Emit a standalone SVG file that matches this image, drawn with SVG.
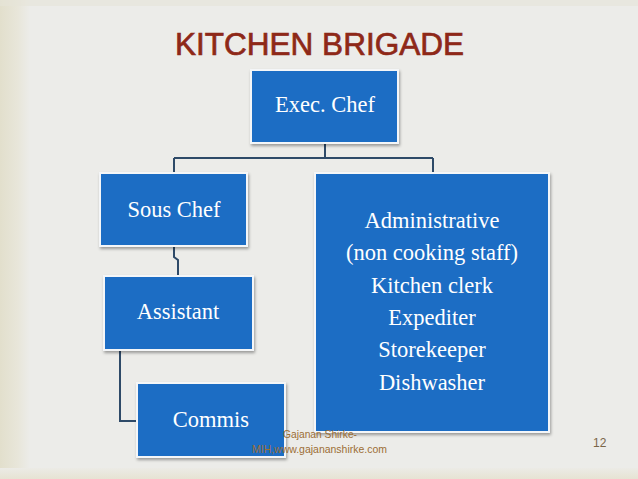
<svg xmlns="http://www.w3.org/2000/svg" width="638" height="479" viewBox="0 0 638 479">
<defs>
<linearGradient id="bgL" x1="0" y1="0" x2="1" y2="0">
<stop offset="0" stop-color="#e2dfcc"/>
<stop offset="0.6" stop-color="#e8e6da"/>
<stop offset="1" stop-color="#ecece9"/>
</linearGradient>
<linearGradient id="bgB" x1="0" y1="0" x2="0" y2="1">
<stop offset="0" stop-color="#ecebe6"/>
<stop offset="1" stop-color="#e6e3d3"/>
</linearGradient>
<filter id="sh" x="-10%" y="-10%" width="120%" height="125%">
<feDropShadow dx="1" dy="2" stdDeviation="1.5" flood-color="#000" flood-opacity="0.35"/>
</filter>
<style>
.box{fill:#1a6dc4;stroke:#f4f6f8;stroke-width:2;filter:url(#sh)}
.lbl{font-family:"Liberation Serif","Times New Roman",serif;font-size:22.5px;fill:#ffffff;text-anchor:middle}
.con{fill:none;stroke:#2e4a68;stroke-width:2}
.foot{font-family:"Liberation Sans",Arial,sans-serif;font-size:11px;fill:#9c6e35}
</style>
</defs>
<rect x="0" y="0" width="638" height="479" fill="#ecece9"/>
<rect x="0" y="0" width="30" height="479" fill="url(#bgL)"/>
<rect x="0" y="468" width="638" height="11" fill="url(#bgB)"/>
<rect x="0" y="0" width="638" height="6" fill="#e6e4d8" opacity="0.6"/>
<text x="175" y="55" font-family="'Liberation Sans',Arial,sans-serif" font-size="32" fill="#8e2818" stroke="#8e2818" stroke-width="0.7" textLength="289" lengthAdjust="spacingAndGlyphs">KITCHEN BRIGADE</text>
<g id="connectors">
<path class="con" d="M325 143 V158 M174 158 H433 M174 158 V173 M433 158 V173"/>
<path class="con" d="M174 246 V257 L178 260 V276"/>
<path class="con" d="M120 350 V421 H137"/>
</g>
<g id="exec">
<rect class="box" x="251" y="70" width="147" height="73"/>
<text class="lbl" x="325" y="112">Exec. Chef</text>
</g>
<g id="sous">
<rect class="box" x="100" y="173" width="147" height="73"/>
<text class="lbl" x="174" y="217">Sous Chef</text>
</g>
<g id="admin">
<rect class="box" x="315" y="173" width="234" height="259"/>
<text class="lbl" x="432" y="228">Administrative</text>
<text class="lbl" x="432" y="260">(non cooking staff)</text>
<text class="lbl" x="432" y="293">Kitchen clerk</text>
<text class="lbl" x="432" y="325">Expediter</text>
<text class="lbl" x="432" y="357">Storekeeper</text>
<text class="lbl" x="432" y="390">Dishwasher</text>
</g>
<g id="assistant">
<rect class="box" x="104" y="276" width="149" height="74"/>
<text class="lbl" x="178" y="319">Assistant</text>
</g>
<g id="commis">
<rect class="box" x="137" y="383" width="148" height="74"/>
<text class="lbl" x="211" y="427">Commis</text>
</g>
<text class="foot" x="283" y="438" textLength="74" lengthAdjust="spacingAndGlyphs">Gajanan Shirke-</text>
<text class="foot" x="252" y="453" textLength="135" lengthAdjust="spacingAndGlyphs">MIH,www.gajananshirke.com</text>
<text x="593" y="447" font-family="'Liberation Sans',Arial,sans-serif" font-size="12" fill="#7a6648">12</text>
</svg>
